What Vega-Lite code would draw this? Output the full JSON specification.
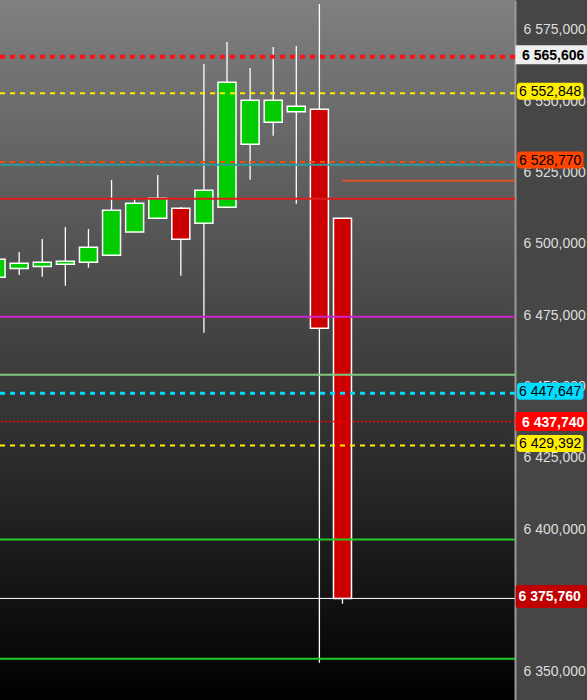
{
  "$schema": "https://vega.github.io/schema/vega-lite/v6.json",
  "width": 515,
  "height": 700,
  "autosize": "none",
  "padding": {"left": 0, "top": 0, "right": 72, "bottom": 0},
  "background": "#464646",
  "view": {
    "stroke": null,
    "fill": {"gradient": "linear", "x1": 0, "y1": 0, "x2": 0, "y2": 1,
      "stops": [{"offset": 0, "color": "#808080"}, {"offset": 1, "color": "#000000"}]}
  },
  "config": {
    "font": "Liberation Sans",
    "locale": {"number": {"decimal": ",", "thousands": " ", "grouping": [3], "currency": ["", ""]}}
  },
  "datasets": {
    "candles": [
      {"i": 0, "open": 6488.321, "high": 6495.5, "low": 6486.0, "close": 6494.630},
      {"i": 1, "open": 6491.406, "high": 6497.189, "low": 6489.127, "close": 6493.263},
      {"i": 2, "open": 6492.107, "high": 6501.745, "low": 6488.532, "close": 6493.579},
      {"i": 3, "open": 6492.878, "high": 6505.951, "low": 6485.377, "close": 6493.929},
      {"i": 4, "open": 6493.579, "high": 6505.250, "low": 6491.686, "close": 6498.836},
      {"i": 5, "open": 6496.032, "high": 6522.425, "low": 6496.032, "close": 6511.805},
      {"i": 6, "open": 6504.199, "high": 6515.660, "low": 6504.199, "close": 6514.258},
      {"i": 7, "open": 6509.001, "high": 6524.177, "low": 6509.001, "close": 6516.011},
      {"i": 8, "open": 6512.506, "high": 6512.961, "low": 6488.882, "close": 6501.640},
      {"i": 9, "open": 6507.248, "high": 6563.083, "low": 6468.904, "close": 6518.815},
      {"i": 10, "open": 6512.856, "high": 6570.794, "low": 6512.856, "close": 6556.669},
      {"i": 11, "open": 6534.938, "high": 6561.681, "low": 6522.530, "close": 6550.360},
      {"i": 12, "open": 6542.649, "high": 6569.041, "low": 6537.952, "close": 6550.360},
      {"i": 13, "open": 6546.364, "high": 6569.392, "low": 6514.118, "close": 6548.257},
      {"i": 14, "open": 6547.205, "high": 6584.113, "low": 6353.239, "close": 6470.446},
      {"i": 15, "open": 6509.001, "high": 6509.001, "low": 6373.919, "close": 6375.760}
    ],
    "levels": [
      {"name": "resistance_hi", "price": 6565.606},
      {"name": "target_up", "price": 6552.848},
      {"name": "level_a", "price": 6528.770},
      {"name": "ma_teal", "price": 6527.75},
      {"name": "ma_orange", "price": 6522.18},
      {"name": "ma_red", "price": 6515.84},
      {"name": "ma_magenta", "price": 6474.47},
      {"name": "ma_lightgreen", "price": 6454.14},
      {"name": "level_cyan", "price": 6447.647},
      {"name": "level_reddot", "price": 6437.740},
      {"name": "target_down", "price": 6429.392},
      {"name": "sup_green1", "price": 6396.42},
      {"name": "last", "price": 6375.760},
      {"name": "sup_green2", "price": 6354.6}
    ]
  },
  "layer": [
    {
      "data": {"name": "candles"},
      "mark": {"type": "rule", "color": "#ffffff", "strokeWidth": 1.3, "clip": true},
      "encoding": {
        "x": {"field": "i", "type": "quantitative", "scale": {"domain": [0.17, 22.47], "nice": false, "zero": false, "padding": 0}, "axis": null},
        "y": {"field": "low", "type": "quantitative", "title": null,
          "scale": {"domain": [6340.16, 6585.515], "nice": false, "zero": false, "padding": 0},
          "axis": {"orient": "right", "title": null, "values": [6350, 6375, 6400, 6425, 6450, 6475, 6500, 6525, 6550, 6575],
            "format": ",.3f", "grid": false, "ticks": false, "tickSize": 0, "labelPadding": 8,
            "labelFontSize": 14, "labelColor": "#dddddd", "labelFont": "Liberation Sans",
            "labelBaseline": "middle", "labelAlign": "left", "labelFlush": false, "labelOverlap": false,
            "domain": true, "domainColor": "#9a9a9a", "domainWidth": 2}},
        "y2": {"field": "high"}
      }
    },
    {
      "data": {"name": "candles"},
      "mark": {"type": "bar", "size": 18, "stroke": "#ffffff", "strokeWidth": 1.5, "clip": true},
      "encoding": {
        "x": {"field": "i", "type": "quantitative", "axis": null},
        "y": {"field": "open", "type": "quantitative", "title": null},
        "y2": {"field": "close"},
        "fill": {"condition": {"test": "datum.close >= datum.open", "value": "#00cc00"}, "value": "#cc0000"}
      }
    },
    {
      "data": {"name": "levels"},
      "transform": [{"filter": {"field": "name", "oneOf": ["ma_teal", "ma_red", "ma_magenta", "ma_lightgreen", "sup_green1", "sup_green2"]}}],
      "mark": {"type": "rule", "strokeWidth": 2},
      "encoding": {
        "y": {"field": "price", "type": "quantitative", "title": null},
        "stroke": {"field": "name", "type": "nominal", "legend": null,
          "scale": {"domain": ["resistance_hi", "target_up", "level_a", "ma_teal", "ma_orange", "ma_red", "ma_magenta", "ma_lightgreen", "level_cyan", "level_reddot", "target_down", "sup_green1", "last", "sup_green2"],
            "range": ["#ff1010", "#ffee00", "#ff4500", "#2e9a9a", "#e05020", "#e01b1b", "#cc22cc", "#80c880", "#00ddff", "#ff0000", "#ffee00", "#22cc22", "#ffffff", "#22cc22"]}}
      }
    },
    {
      "data": {"name": "levels"},
      "transform": [{"filter": {"field": "name", "oneOf": ["last"]}}],
      "mark": {"type": "rule", "strokeWidth": 1},
      "encoding": {
        "y": {"field": "price", "type": "quantitative", "title": null},
        "stroke": {"field": "name", "type": "nominal", "legend": null}
      }
    },
    {
      "data": {"name": "levels"},
      "transform": [{"filter": {"field": "name", "oneOf": ["ma_orange"]}}],
      "mark": {"type": "rule", "strokeWidth": 2},
      "encoding": {
        "x": {"datum": 15, "type": "quantitative", "axis": null},
        "x2": {"datum": 22.47},
        "y": {"field": "price", "type": "quantitative", "title": null},
        "stroke": {"field": "name", "type": "nominal", "legend": null}
      }
    },
    {
      "data": {"name": "levels"},
      "transform": [{"filter": {"field": "name", "oneOf": ["target_up", "level_a", "target_down"]}}],
      "mark": {"type": "rule", "strokeWidth": 2, "strokeDash": [5, 5]},
      "encoding": {
        "y": {"field": "price", "type": "quantitative", "title": null},
        "stroke": {"field": "name", "type": "nominal", "legend": null}
      }
    },
    {
      "data": {"name": "levels"},
      "transform": [{"filter": {"field": "name", "oneOf": ["level_cyan"]}}],
      "mark": {"type": "rule", "strokeWidth": 3, "strokeDash": [5, 5]},
      "encoding": {
        "y": {"field": "price", "type": "quantitative", "title": null},
        "stroke": {"field": "name", "type": "nominal", "legend": null}
      }
    },
    {
      "data": {"name": "levels"},
      "transform": [{"filter": {"field": "name", "oneOf": ["resistance_hi"]}}],
      "mark": {"type": "rule", "strokeWidth": 4, "strokeDash": [5, 5]},
      "encoding": {
        "y": {"field": "price", "type": "quantitative", "title": null},
        "stroke": {"field": "name", "type": "nominal", "legend": null}
      }
    },
    {
      "data": {"name": "levels"},
      "transform": [{"filter": {"field": "name", "oneOf": ["level_reddot"]}}],
      "mark": {"type": "rule", "strokeWidth": 1.5, "strokeDash": [2, 2]},
      "encoding": {
        "y": {"field": "price", "type": "quantitative", "title": null},
        "stroke": {"field": "name", "type": "nominal", "legend": null}
      }
    },
    {
      "data": {"name": "levels"},
      "transform": [{"filter": {"field": "name", "oneOf": ["target_up", "level_a", "level_cyan", "target_down"]}}],
      "mark": {"type": "bar", "size": 17, "cornerRadius": 3, "yOffset": -2},
      "encoding": {
        "x": {"datum": 22.557, "type": "quantitative", "axis": null},
        "x2": {"datum": 25.436},
        "y": {"field": "price", "type": "quantitative", "title": null},
        "fill": {"field": "name", "type": "nominal", "legend": null,
          "scale": {"domain": ["resistance_hi", "target_up", "level_a", "level_cyan", "level_reddot", "target_down", "last"],
            "range": ["#eeeeee", "#ffee00", "#ff4500", "#00ddff", "#ff0000", "#ffee00", "#c00000"]}}
      }
    },
    {
      "data": {"name": "levels"},
      "transform": [{"filter": {"field": "name", "oneOf": ["resistance_hi"]}}],
      "mark": {"type": "bar", "size": 19, "yOffset": -2},
      "encoding": {
        "x": {"datum": 22.49, "type": "quantitative", "axis": null},
        "x2": {"datum": 25.6},
        "y": {"field": "price", "type": "quantitative", "title": null},
        "fill": {"field": "name", "type": "nominal", "legend": null}
      }
    },
    {
      "data": {"name": "levels"},
      "transform": [{"filter": {"field": "name", "oneOf": ["level_reddot"]}}],
      "mark": {"type": "bar", "size": 19},
      "encoding": {
        "x": {"datum": 22.49, "type": "quantitative", "axis": null},
        "x2": {"datum": 25.6},
        "y": {"field": "price", "type": "quantitative", "title": null},
        "fill": {"field": "name", "type": "nominal", "legend": null}
      }
    },
    {
      "data": {"name": "levels"},
      "transform": [{"filter": {"field": "name", "oneOf": ["last"]}}],
      "mark": {"type": "bar", "size": 23, "cornerRadius": 2, "yOffset": -2},
      "encoding": {
        "x": {"datum": 22.5, "type": "quantitative", "axis": null},
        "x2": {"datum": 25.6},
        "y": {"field": "price", "type": "quantitative", "title": null},
        "fill": {"field": "name", "type": "nominal", "legend": null}
      }
    },
    {
      "data": {"name": "levels"},
      "transform": [{"filter": {"field": "name", "oneOf": ["target_up", "level_a", "level_cyan", "target_down"]}}],
      "mark": {"type": "text", "align": "left", "baseline": "middle", "fontSize": 14, "color": "#000000", "yOffset": -1},
      "encoding": {
        "x": {"datum": 22.644, "type": "quantitative", "axis": null},
        "y": {"field": "price", "type": "quantitative", "title": null},
        "text": {"field": "price", "type": "quantitative", "format": ",.3f"}
      }
    },
    {
      "data": {"name": "levels"},
      "transform": [{"filter": {"field": "name", "oneOf": ["resistance_hi"]}}],
      "mark": {"type": "text", "align": "left", "baseline": "middle", "fontSize": 14, "fontWeight": "bold", "color": "#000000", "yOffset": -1},
      "encoding": {
        "x": {"datum": 22.773, "type": "quantitative", "axis": null},
        "y": {"field": "price", "type": "quantitative", "title": null},
        "text": {"field": "price", "type": "quantitative", "format": ",.3f"}
      }
    },
    {
      "data": {"name": "levels"},
      "transform": [{"filter": {"field": "name", "oneOf": ["level_reddot"]}}],
      "mark": {"type": "text", "align": "left", "baseline": "middle", "fontSize": 14, "fontWeight": "bold", "color": "#ffffff", "yOffset": 1},
      "encoding": {
        "x": {"datum": 22.773, "type": "quantitative", "axis": null},
        "y": {"field": "price", "type": "quantitative", "title": null},
        "text": {"field": "price", "type": "quantitative", "format": ",.3f"}
      }
    },
    {
      "data": {"name": "levels"},
      "transform": [{"filter": {"field": "name", "oneOf": ["last"]}}],
      "mark": {"type": "text", "align": "left", "baseline": "middle", "fontSize": 14, "fontWeight": "bold", "color": "#ffffff", "yOffset": -1},
      "encoding": {
        "x": {"datum": 22.62, "type": "quantitative", "axis": null},
        "y": {"field": "price", "type": "quantitative", "title": null},
        "text": {"field": "price", "type": "quantitative", "format": ",.3f"}
      }
    }
  ]
}
